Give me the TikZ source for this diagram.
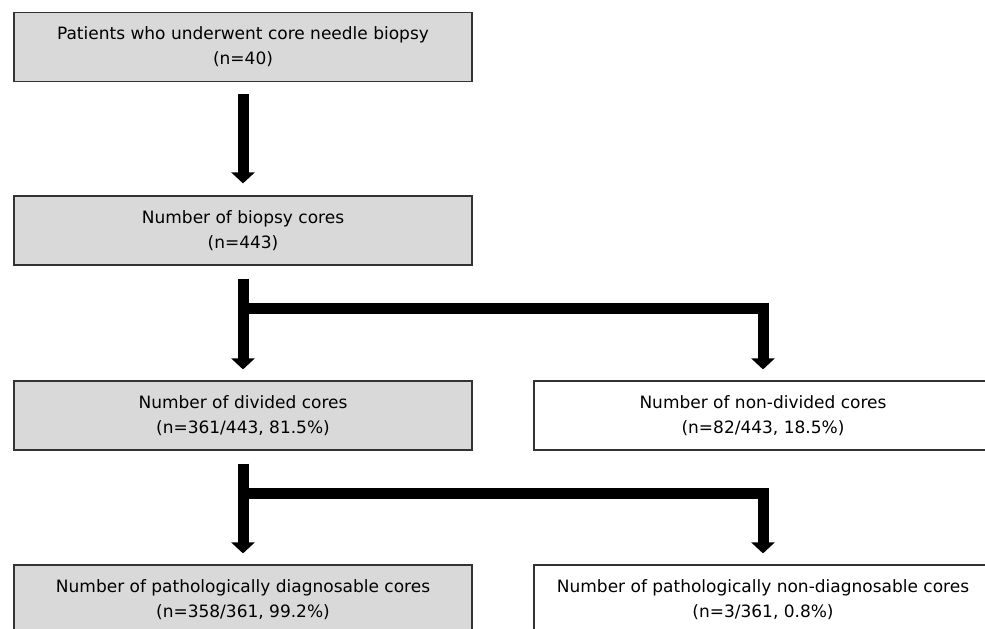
\documentclass[tikz,border=0pt]{standalone}
\usepackage{fontspec}
\setmainfont{DejaVu Sans}
\usetikzlibrary{arrows.meta,positioning}

\begin{document}
\begin{tikzpicture}[x=1pt,y=-1pt,
    box/.style={draw=black!80,line width=1.2pt,fill=black!15,minimum width=458pt,
      minimum height=69pt,inner sep=0pt,align=center,font=\fontsize{17}{25}\selectfont},
    whitebox/.style={box,fill=white},
    flow/.style={line width=11pt,line join=miter,-{Triangle[width=23pt,length=11pt]}}]
  \useasboundingbox(0,0)rectangle(985,629);%画面

  \node[box](patients)at(243,47){Patients who underwent core needle biopsy\\(n=40)};%患者
  \node[box](cores)at(243,230.5){Number of biopsy cores\\(n=443)};%生検コア
  \node[box](divided)at(243,415.5){Number of divided cores\\(n=361/443, 81.5\%)};
  \node[whitebox](nondivided)at(763,415.5){Number of non-divided cores\\(n=82/443, 18.5\%)};
  \node[box](diag)at(243,599.5){Number of pathologically diagnosable cores\\(n=358/361, 99.2\%)};
  \node[whitebox](nondiag)at(763,599.5){Number of pathologically non-diagnosable cores\\(n=3/361, 0.8\%)};

  \draw[flow]([yshift=-12pt]patients.south)--([yshift=12pt]cores.north);%矢印1

  \coordinate(fork1)at([yshift=-42.5pt]cores.south);%分岐1
  \draw[flow]([yshift=-13pt]cores.south)--([yshift=11pt]divided.north);
  \draw[flow](fork1)-|([yshift=11pt]nondivided.north);

  \coordinate(fork2)at([yshift=-42.5pt]divided.south);%分岐2
  \draw[flow]([yshift=-13pt]divided.south)--([yshift=11pt]diag.north);
  \draw[flow](fork2)-|([yshift=11pt]nondiag.north);
\end{tikzpicture}
\end{document}
